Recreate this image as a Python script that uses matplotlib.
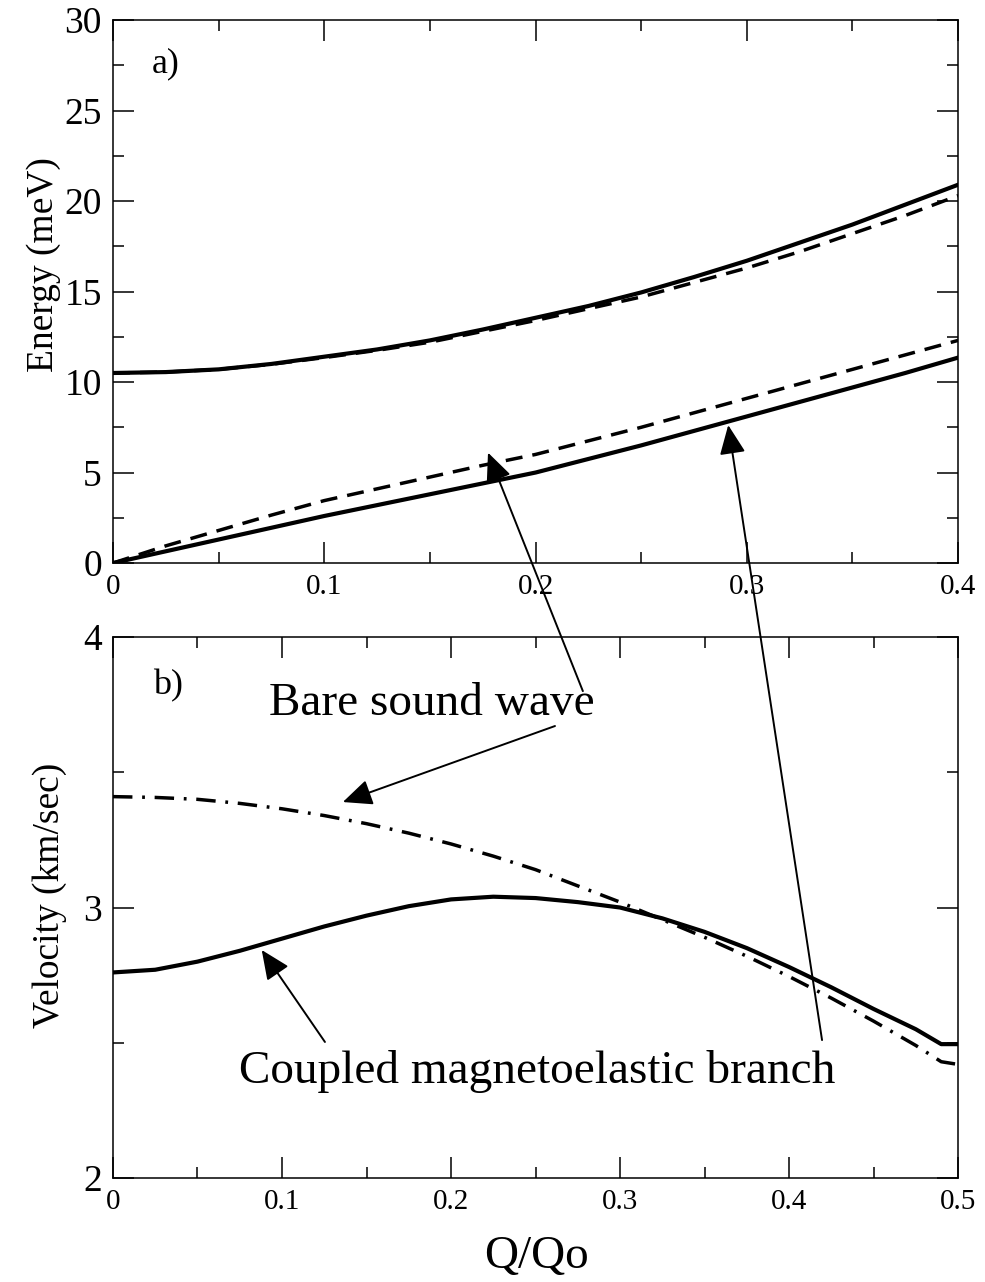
import matplotlib
matplotlib.use("Agg")
import matplotlib.pyplot as plt
from matplotlib.ticker import MultipleLocator

plt.rcParams['font.family'] = ['Liberation Serif', 'DejaVu Serif']

# panel a) energy vs Q/Qo
q_a = [0.0, 0.025, 0.05, 0.075, 0.1, 0.125, 0.15, 0.175, 0.2, 0.225, 0.25,
       0.275, 0.3, 0.325, 0.35, 0.375, 0.4]
upper_solid = [10.5, 10.55, 10.7, 11.0, 11.4, 11.8, 12.3, 12.9, 13.55, 14.2, 14.95,
               15.8, 16.7, 17.7, 18.7, 19.8, 20.9]
upper_dash = [10.5, 10.55, 10.7, 10.98, 11.35, 11.75, 12.2, 12.8, 13.4, 14.05, 14.7,
              15.5, 16.3, 17.2, 18.2, 19.2, 20.3]
lower_solid = [0.0, 0.65, 1.3, 1.95, 2.6, 3.2, 3.8, 4.4, 5.0, 5.75, 6.5,
               7.3, 8.1, 8.9, 9.7, 10.5, 11.35]
lower_dash = [0.0, 0.95, 1.8, 2.65, 3.45, 4.1, 4.75, 5.4, 6.0, 6.75, 7.5,
              8.3, 9.1, 9.9, 10.7, 11.5, 12.3]

# panel b) velocity vs Q/Qo
q_b = [0.0, 0.025, 0.05, 0.075, 0.1, 0.125, 0.15, 0.175, 0.2, 0.225, 0.25,
       0.275, 0.3, 0.325, 0.35, 0.375, 0.4, 0.425, 0.45, 0.475, 0.49, 0.5]
vel_coupled = [2.76, 2.77, 2.80, 2.84, 2.885, 2.93, 2.97, 3.005, 3.03, 3.04, 3.035,
               3.02, 3.0, 2.96, 2.91, 2.85, 2.78, 2.705, 2.625, 2.55, 2.495, 2.495]
vel_bare = [3.41, 3.407, 3.40, 3.385, 3.365, 3.34, 3.31, 3.275, 3.235, 3.19, 3.14,
            3.08, 3.02, 2.955, 2.89, 2.82, 2.745, 2.665, 2.58, 2.49, 2.43, 2.42]

fig = plt.figure(figsize=(9.85, 12.82), dpi=100)
ax1 = fig.add_axes([0.1147, 0.5608, 0.858, 0.4236])
ax2 = fig.add_axes([0.1147, 0.0811, 0.858, 0.422])

ax1.plot(q_a, upper_solid, color='black', lw=3)
ax1.plot(q_a, upper_dash, color='black', lw=2.5, dashes=(4.9, 2.9))
ax1.plot(q_a, lower_solid, color='black', lw=3)
ax1.plot(q_a, lower_dash, color='black', lw=2.5, dashes=(4.9, 2.9))

ax2.plot(q_b, vel_coupled, color='black', lw=3)
ax2.plot(q_b, vel_bare, color='black', lw=2.5, dashes=(5.6, 2.8, 0.8, 2.8))

ax1.set_xlim(0, 0.4)
ax1.set_ylim(0, 30)
ax2.set_xlim(0, 0.5)
ax2.set_ylim(2, 4)

ax1.xaxis.set_major_locator(MultipleLocator(0.1))
ax1.xaxis.set_minor_locator(MultipleLocator(0.05))
ax1.yaxis.set_major_locator(MultipleLocator(5))
ax1.yaxis.set_minor_locator(MultipleLocator(2.5))
ax2.xaxis.set_major_locator(MultipleLocator(0.1))
ax2.xaxis.set_minor_locator(MultipleLocator(0.05))
ax2.yaxis.set_major_locator(MultipleLocator(1))
ax2.yaxis.set_minor_locator(MultipleLocator(0.5))

for ax in (ax1, ax2):
    for s in ax.spines.values():
        s.set_linewidth(1.1)
    ax.tick_params(which='both', direction='in', top=True, right=True, width=1.1)
    ax.tick_params(which='major', length=15)
    ax.tick_params(which='minor', length=8)
    ax.tick_params(axis='y', labelsize=27, pad=8)
    ax.tick_params(axis='x', labelsize=21, pad=8)
    ax.xaxis.set_major_formatter(plt.FuncFormatter(lambda v, p: '0' if abs(v) < 1e-9 else '%g' % v))

ax1.set_ylabel('Energy (meV)', fontsize=27)
ax1.yaxis.set_label_coords(-0.062, 0.549)
ax2.set_ylabel('Velocity (km/sec)', fontsize=27)
ax2.yaxis.set_label_coords(-0.054, 0.523)

ax1.text(0.0185, 27.1, 'a)', fontsize=26)
ax2.text(0.0236, 3.79, 'b)', fontsize=26)

fig.text(0.545, 0.011, 'Q/Qo', fontsize=34, ha='center', va='baseline')

ax2.text(0.1888, 3.712, 'Bare sound wave', fontsize=34, ha='center', va='baseline')
ax2.text(0.251, 2.351, 'Coupled magnetoelastic branch', fontsize=34, ha='center', va='baseline')

arrow = dict(arrowstyle='-|>,head_length=0.9,head_width=0.4', mutation_scale=20,
             lw=1.4, color='black', shrinkA=0, shrinkB=0)

# arrows into panel a) start in panel b)
ax2.annotate('', xy=(0.1775, 6.1), xycoords=ax1.transData,
             xytext=(0.278, 3.80), textcoords='data', arrowprops=arrow, annotation_clip=False)
ax2.annotate('', xy=(0.2912, 7.62), xycoords=ax1.transData,
             xytext=(0.4195, 2.51), textcoords='data', arrowprops=arrow, annotation_clip=False)
ax2.annotate('', xy=(0.136, 3.39), xytext=(0.2615, 3.671), arrowprops=arrow)
ax2.annotate('', xy=(0.088, 2.843), xytext=(0.1254, 2.503), arrowprops=arrow)

fig.savefig('out.png', dpi=100)
